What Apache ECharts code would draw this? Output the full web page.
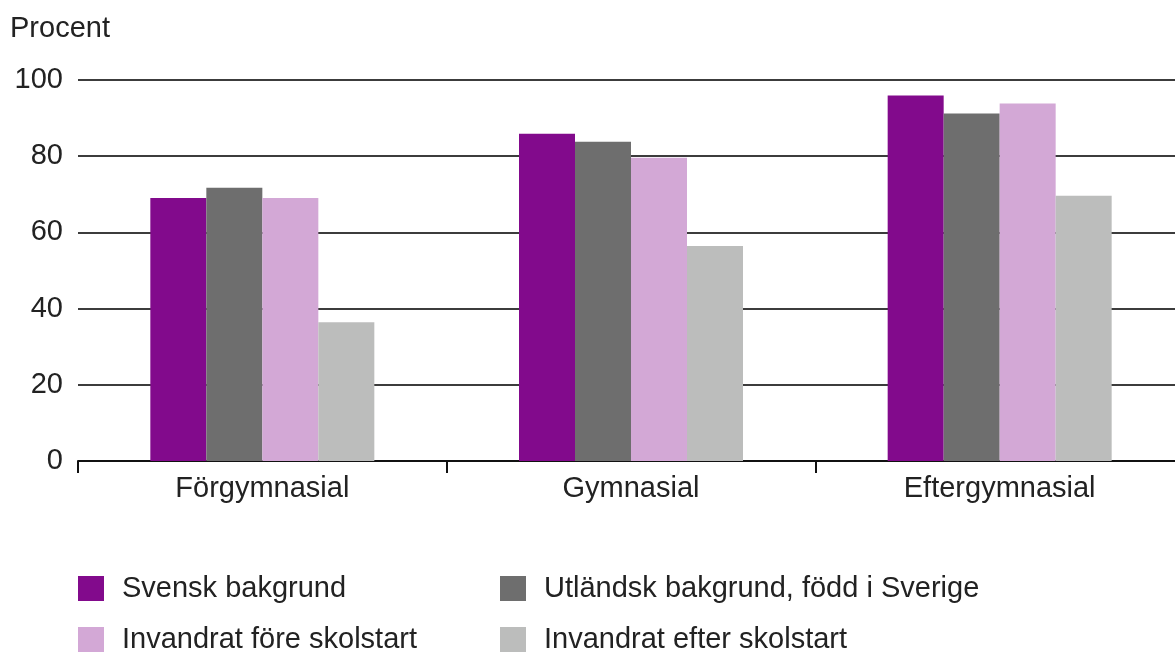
<!DOCTYPE html>
<html>
<head>
<meta charset="utf-8">
<script src="https://cdn.jsdelivr.net/npm/echarts@6/dist/echarts.min.js"></script>
<style>
  html, body { margin: 0; padding: 0; background: #fff; }
  #chart { width: 1175px; height: 653px; }
</style>
</head>
<body>
<div id="chart"></div>
<script>
  // kategorier och serier
  const categories = ['Förgymnasial', 'Gymnasial', 'Eftergymnasial']
  const seriesNames = [
    'Svensk bakgrund',
    'Utländsk bakgrund, född i Sverige',
    'Invandrat före skolstart',
    'Invandrat efter skolstart'
  ]
  const svensk = [69.0, 85.9, 95.9]
  const utlandskFodd = [71.7, 83.8, 91.2]
  const foreSkolstart = [69.0, 79.6, 93.8]
  const efterSkolstart = [36.4, 56.4, 69.6]
  const colors = ['#820a8c', '#6e6e6e', '#d3a8d6', '#bcbdbc']

  const font = 'Liberation Sans, Arial, sans-serif'
  const chart = echarts.init(document.getElementById('chart'))

  const values = [svensk, utlandskFodd, foreSkolstart, efterSkolstart]
  const series = seriesNames.map((name, i) => ({
    name: name,
    type: 'bar',
    barWidth: 56,
    barGap: '0%',
    itemStyle: { color: colors[i] },
    data: values[i]
  }))

  // en legend per post, två kolumner och två rader
  const legendPos = [[78, 574], [500, 574], [78, 625], [500, 625]]
  const legends = seriesNames.map((name, i) => ({
    data: [name],
    left: legendPos[i][0],
    top: legendPos[i][1],
    icon: 'rect',
    itemWidth: 26,
    itemHeight: 25,
    itemGap: 0,
    padding: 0,
    textStyle: { color: '#222', fontSize: 29, fontFamily: font, padding: [0, 0, 0, 13] }
  }))

  const option = {
    animation: false,
    title: {
      text: 'Procent',
      left: 10,
      top: 14,
      padding: 0,
      textStyle: { color: '#222', fontSize: 29, fontWeight: 'normal', fontFamily: font }
    },
    legend: legends,
    grid: {
      left: 78,
      width: 1106,
      top: 80,
      bottom: 192,
      outerBoundsMode: 'none',
      containLabel: false
    },
    xAxis: {
      type: 'category',
      data: categories,
      axisLine: { lineStyle: { color: '#111', width: 2 } },
      axisTick: { show: true, length: 12, lineStyle: { color: '#111', width: 2 } },
      axisLabel: { color: '#222', fontSize: 29, fontFamily: font, margin: 13 }
    },
    yAxis: {
      type: 'value',
      min: 0,
      max: 100,
      interval: 20,
      axisLine: { show: false },
      axisTick: { show: false },
      axisLabel: { color: '#222', fontSize: 29, fontFamily: font, margin: 15 },
      splitLine: { lineStyle: { color: '#3c3c3c', width: 2 } }
    },
    series: series
  }
  chart.setOption(option)
</script>
</body>
</html>
